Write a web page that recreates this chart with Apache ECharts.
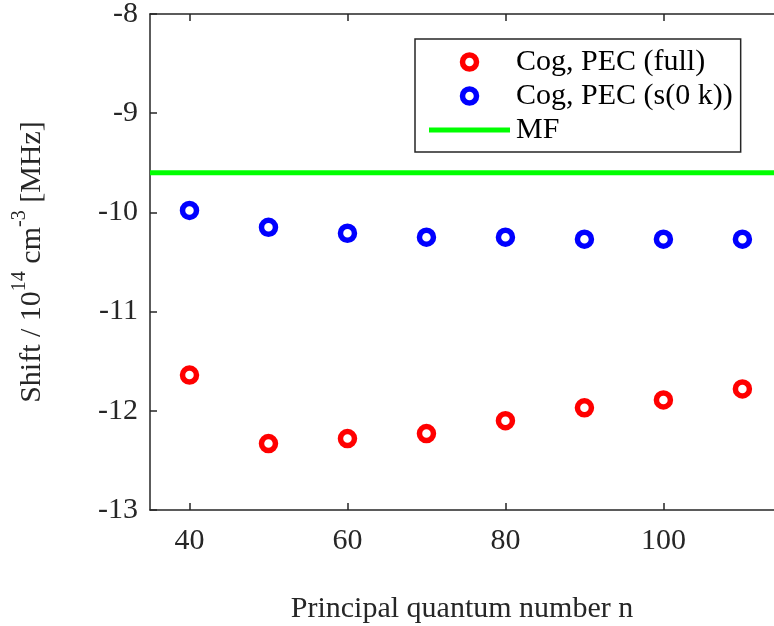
<!DOCTYPE html>
<html>
<head>
<meta charset="utf-8">
<script src="https://cdn.jsdelivr.net/npm/echarts@6/dist/echarts.min.js"></script>
<style>html,body{margin:0;padding:0;background:#fff;}#c{width:774px;height:626px;}</style>
</head>
<body>
<div id="c"></div>
<script>
// ---- data ----
const nValues = [40, 50, 60, 70, 80, 90, 100, 110];
const cogFull = [-11.64, -12.33, -12.28, -12.23, -12.10, -11.97, -11.89, -11.78];
const cogS0k = [-9.98, -10.15, -10.21, -10.25, -10.25, -10.27, -10.27, -10.27];
const mfValue = -9.60;
const xTicks = [40, 60, 80, 100];
const yTicks = [-13, -12, -11, -10, -9, -8];
const xRange = [35, 114];
const yRange = [-13, -8];
const seriesNames = ['Cog, PEC (full)', 'Cog, PEC (s(0 k))', 'MF'];

const FONT = 'Liberation Serif';
const AX = '#262626';

const chart = echarts.init(document.getElementById('c'), null, {renderer: 'canvas'});

const axisCommon = {
  axisLine: {show: true, onZero: false, lineStyle: {color: AX, width: 1.5}},
  axisTick: {show: true, inside: true, length: 7, lineStyle: {color: AX, width: 1.5}},
  splitLine: {show: false}
};

const option = {
  backgroundColor: '#fff',
  animation: false,
  grid: {left: 150, right: 0, top: 14, bottom: 116, containLabel: false, outerBoundsMode: 'none'},
  legend: {
    data: [
      {name: seriesNames[0], itemStyle: {color: '#fff', borderColor: '#ff0000', borderWidth: 5.5}},
      {name: seriesNames[1], itemStyle: {color: '#fff', borderColor: '#0000ff', borderWidth: 5.5}},
      {name: seriesNames[2], icon: 'path://M0,0 H81 V5 H0 Z', itemStyle: {color: '#00ff00', borderWidth: 0}}
    ],
    orient: 'vertical',
    left: 415, top: 39,
    padding: [8, 8, 7, 14],
    itemGap: 4,
    itemWidth: 81,
    itemHeight: 14,
    selectedMode: false,
    backgroundColor: '#fff',
    borderColor: AX,
    borderWidth: 1.5,
    borderRadius: 0,
    textStyle: {fontFamily: FONT, fontSize: 30, color: '#000', lineHeight: 30, padding: [0,0,0,1]}
  },
  xAxis: [
    Object.assign({}, axisCommon, {
      type: 'value', position: 'bottom', min: xRange[0], max: xRange[1],
      name: 'Principal quantum number n', nameLocation: 'middle', nameGap: 84,
      nameTextStyle: {fontFamily: FONT, fontSize: 30, color: AX},
      axisTick: Object.assign({}, axisCommon.axisTick, {customValues: xTicks}),
      axisLabel: {customValues: xTicks, fontFamily: FONT, fontSize: 30, color: AX, margin: 16}
    }),
    Object.assign({}, axisCommon, {
      type: 'value', position: 'top', min: xRange[0], max: xRange[1],
      axisTick: Object.assign({}, axisCommon.axisTick, {customValues: xTicks}),
      axisLabel: {show: false}
    })
  ],
  yAxis: [
    Object.assign({}, axisCommon, {
      type: 'value', position: 'left', min: yRange[0], max: yRange[1], interval: 1,
      name: '{m|Shift / 10}{s|14}{m| cm}{s|-3}{m| [MHz]}',
      nameLocation: 'middle', nameRotate: 90, nameGap: 96,
      nameTextStyle: {
        fontFamily: FONT, color: AX,
        rich: {
          m: {fontFamily: FONT, fontSize: 30, color: AX, lineHeight: 44},
          s: {fontFamily: FONT, fontSize: 20, color: AX, lineHeight: 20, verticalAlign: 'top'}
        }
      },
      axisTick: Object.assign({}, axisCommon.axisTick, {customValues: yTicks}),
      axisLabel: {customValues: yTicks, fontFamily: FONT, fontSize: 30, color: AX, margin: 12}
    })
  ],
  series: [
    {
      name: seriesNames[2], type: 'line', xAxisIndex: 0, yAxisIndex: 0,
      data: [[xRange[0], mfValue], [xRange[1], mfValue]],
      symbol: 'none', lineStyle: {color: '#00ff00', width: 5}, itemStyle: {color: '#00ff00'}, z: 1
    },
    {
      name: seriesNames[0], type: 'scatter', xAxisIndex: 0, yAxisIndex: 0,
      data: nValues.map((n, i) => [n, cogFull[i]]),
      symbol: 'circle', symbolSize: 14,
      itemStyle: {color: '#fff', borderColor: '#ff0000', borderWidth: 5.5, opacity: 1}, z: 3
    },
    {
      name: seriesNames[1], type: 'scatter', xAxisIndex: 0, yAxisIndex: 0,
      data: nValues.map((n, i) => [n, cogS0k[i]]),
      symbol: 'circle', symbolSize: 14,
      itemStyle: {color: '#fff', borderColor: '#0000ff', borderWidth: 5.5, opacity: 1}, z: 3
    }
  ]
};
chart.setOption(option);
</script>
</body>
</html>
